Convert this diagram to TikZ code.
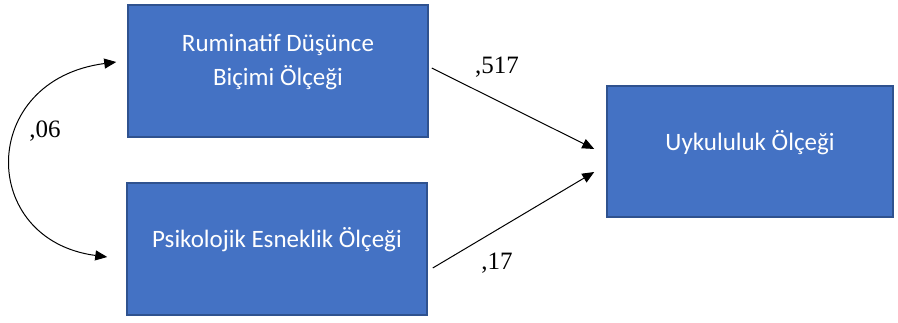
\documentclass[tikz,border=0pt]{standalone}
\usepackage{fontspec}
\setmainfont{Liberation Serif}
\newfontfamily\boxfont{Carlito}
\usetikzlibrary{arrows.meta}
\definecolor{boxfill}{HTML}{4472C4}
\definecolor{boxline}{HTML}{2F528F}
\tikzset{
  box/.style={draw=boxline, line width=1.5pt, fill=boxfill, minimum width=#1, minimum height=132pt, inner sep=0pt},
  boxtext/.style={text=white, font=\boxfont\fontsize{25}{34}\selectfont, align=center},
  conn/.style={line width=1pt, -{Triangle[length=12pt,width=10pt]}},
  coef/.style={font=\fontsize{25}{30}\selectfont}
}
\begin{document}
\begin{tikzpicture}[x=1pt,y=-1pt]
\useasboundingbox (0,0) rectangle (898,322);
\node[box=300pt] (b1) at (278,71) {};
\node[box=300pt] (b2) at (277,249) {};
\node[box=286pt, minimum height=131pt] (b3) at (750,151.5) {};
\node[boxtext] (t1) at (278,62) {Ruminatif Düşünce\\Biçimi Ölçeği};
\node[boxtext] (t2) at (277,240) {Psikolojik Esneklik Ölçeği};
\node[boxtext] (t3) at (750,143) {Uykululuk Ölçeği};
\draw[conn] ([xshift=3pt,yshift=3pt]b1.east) -- ([xshift=-12pt,yshift=2.5pt]b3.west);
\draw[conn] ([xshift=5pt,yshift=-19pt]b2.east) -- ([xshift=-12pt,yshift=-20.5pt]b3.west);
\draw[conn, {Triangle[length=12pt,width=10pt]}-{Triangle[length=12pt,width=10pt]}]
  ([xshift=-11pt,yshift=9pt]b1.west) .. controls (-22,80) and (-22,240) .. ([xshift=-19pt,yshift=-8pt]b2.west);
\node[coef] (c1) at (497,67) {,517};
\node[coef] (c2) at (497,263) {,17};
\node[coef] (c3) at (45,131) {,06};
\end{tikzpicture}
\end{document}
